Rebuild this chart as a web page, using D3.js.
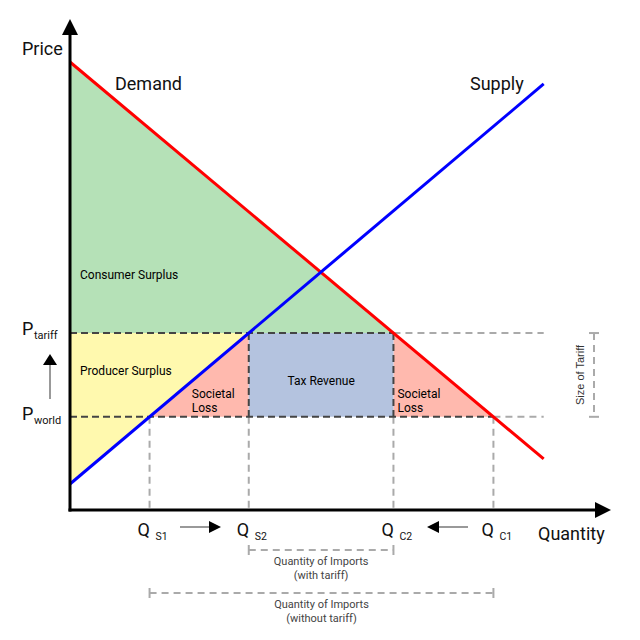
<!DOCTYPE html>
<html><head><meta charset="utf-8">
<script src="https://cdn.jsdelivr.net/npm/d3@7"></script>
<style>body{margin:0;background:#fff}svg{display:block}</style>
</head><body>
<script>
// ---- data ----
const demand = [{q:0, p:10}, {q:10, p:1.14}];
const supply = [{q:0, p:0.58}, {q:10, p:9.51}];
const pWorld = 2.08;
const pTariff = 3.95;
const qLabels = [["Q","S1"],["Q","S2"],["Q","C2"],["Q","C1"]];
const regionLabels = ["Consumer Surplus","Producer Surplus","Tax Revenue"];

const W = 640, H = 640;
const svg = d3.select("body").append("svg").attr("width", W).attr("height", H);
const x = d3.scaleLinear().domain([0, 11.4]).range([70, 610]);
const y = d3.scaleLinear().domain([0, 11]).range([510, 17.2]);

const dSlope = (demand[1].p - demand[0].p) / (demand[1].q - demand[0].q);
const sSlope = (supply[1].p - supply[0].p) / (supply[1].q - supply[0].q);
const qD = p => demand[0].q + (p - demand[0].p) / dSlope;
const qS = p => supply[0].q + (p - supply[0].p) / sSlope;
const qs1 = qS(pWorld), qs2 = qS(pTariff), qc2 = qD(pTariff), qc1 = qD(pWorld);

const line = d3.line().x(d => x(d[0])).y(d => y(d[1]));
const poly = (pts, fill) => svg.append("path").attr("d", line(pts) + "Z").attr("fill", fill);

// fills
poly([[0, demand[0].p], [qc2, pTariff], [0, pTariff]], "#b5e1b7");
poly([[0, pTariff], [qs2, pTariff], [0, supply[0].p]], "#fff9ae");
poly([[qs1, pWorld], [qs2, pTariff], [qs2, pWorld]], "#ffb9ae");
poly([[qc2, pTariff], [qc2, pWorld], [qc1, pWorld]], "#ffb9ae");
poly([[qs2, pTariff], [qc2, pTariff], [qc2, pWorld], [qs2, pWorld]], "#b4c3df");

const seg = (pts, color, dash) => svg.append("path").attr("d", line(pts))
  .attr("fill", "none").attr("stroke", color).attr("stroke-width", 2).attr("stroke-dasharray", dash);
const dark = "#444", light = "#aaa";
const qEnd = 10;
// light extensions
seg([[qc2, pTariff], [qEnd, pTariff]], light, "7,5");
seg([[qc1, pWorld], [qEnd, pWorld]], light, "7,5");
[qs1, qs2, qc2, qc1].forEach(q => seg([[q, pWorld], [q, 0]], light, "7,5"));
// dark dashed
seg([[0, pTariff], [qc2, pTariff]], dark, "7,4");
seg([[0, pWorld], [qc1, pWorld]], dark, "7,4");
seg([[qs2, pTariff], [qs2, pWorld]], dark, "7,4");
seg([[qc2, pTariff], [qc2, pWorld]], dark, "7,4");

// supply & demand
svg.append("path").attr("d", line(demand.map(d => [d.q, d.p]))).attr("stroke", "#ff0000").attr("stroke-width", 3).attr("fill", "none");
svg.append("path").attr("d", line(supply.map(d => [d.q, d.p]))).attr("stroke", "#0000ff").attr("stroke-width", 3).attr("fill", "none");

// axes
const x0 = x(0), y0 = y(0);
svg.append("line").attr("x1", x0).attr("y1", y0 + 1.5).attr("x2", x0).attr("y2", 34).attr("stroke", "#000").attr("stroke-width", 3);
svg.append("line").attr("x1", x0 - 1.5).attr("y1", y0).attr("x2", 596).attr("y2", y0).attr("stroke", "#000").attr("stroke-width", 3);
svg.append("path").attr("d", `M${x0},19 L${x0 + 8},35 L${x0 - 8},35 Z`).attr("fill", "#000");
svg.append("path").attr("d", `M611,${y0} L595,${y0 - 8} L595,${y0 + 8} Z`).attr("fill", "#000");

const F = "Roboto, 'Noto Sans', sans-serif";
const txt = (s, tx, ty, size, opts = {}) => svg.append("text").attr("x", tx).attr("y", ty)
  .attr("font-family", opts.family || F).attr("font-size", size).attr("fill", opts.fill || "#111")
  .attr("text-anchor", opts.anchor || "start").text(s);

txt("Price", 22, 55, 18);
txt("Demand", 115, 90, 18);
txt("Supply", 470, 90, 18);
txt("Quantity", 538, 540, 18);

txt(regionLabels[0], 80, 279, 12, {fill:"#000"});
txt(regionLabels[1], 80, 375, 12, {fill:"#000"});
txt(regionLabels[2], (x(qs2) + x(qc2)) / 2, 385, 12, {fill:"#000", anchor:"middle"});
txt("Societal", x(qs2) - 57, 398, 12, {fill:"#000"});
txt("Loss", x(qs2) - 57, 412, 12, {fill:"#000"});
txt("Societal", x(qc2) + 4, 398, 12, {fill:"#000"});
txt("Loss", x(qc2) + 4, 412, 12, {fill:"#000"});

// price labels
txt("P", 22, y(pTariff) + 2, 18);
txt("tariff", 34, y(pTariff) + 6, 11);
txt("P", 22, y(pWorld) + 3, 18);
txt("world", 34, y(pWorld) + 7, 11);
// up arrow
svg.append("line").attr("x1", 50).attr("y1", 399).attr("x2", 50).attr("y2", 364).attr("stroke", "#999").attr("stroke-width", 2);
svg.append("path").attr("d", "M50,354 L57,365 L43,365 Z").attr("fill", "#000");

// Q labels
[qs1, qs2, qc2, qc1].forEach((q, i) => {
  txt(qLabels[i][0], x(q) - 12, 536, 18);
  txt(qLabels[i][1], x(q) + 6, 540, 10.5);
});
// horizontal arrows
svg.append("line").attr("x1", 180).attr("y1", 527).attr("x2", 211).attr("y2", 527).attr("stroke", "#999").attr("stroke-width", 2);
svg.append("path").attr("d", "M221,527 L209,521 L209,533 Z").attr("fill", "#000");
svg.append("line").attr("x1", 437).attr("y1", 527).attr("x2", 468).attr("y2", 527).attr("stroke", "#999").attr("stroke-width", 2);
svg.append("path").attr("d", "M427,527 L439,521 L439,533 Z").attr("fill", "#000");

// brackets
const bracketH = (q1, q2, by) => {
  seg([[q1, 0], [q2, 0]], light, "7,5").attr("transform", `translate(0,${by - y0})`);
  [q1, q2].forEach(q => svg.append("line").attr("x1", x(q)).attr("x2", x(q)).attr("y1", by - 5).attr("y2", by + 5).attr("stroke", light).attr("stroke-width", 2));
};
bracketH(qs2, qc2, 550);
txt("Quantity of Imports", (x(qs2) + x(qc2)) / 2, 565, 11, {anchor:"middle", fill:"#444"});
txt("(with tariff)", (x(qs2) + x(qc2)) / 2, 579, 11, {anchor:"middle", fill:"#444"});
bracketH(qs1, qc1, 593);
txt("Quantity of Imports", (x(qs1) + x(qc1)) / 2, 608, 11, {anchor:"middle", fill:"#444"});
txt("(without tariff)", (x(qs1) + x(qc1)) / 2, 622, 11, {anchor:"middle", fill:"#444"});

// size of tariff bracket
const bx = 594;
svg.append("line").attr("x1", bx).attr("x2", bx).attr("y1", y(pTariff)).attr("y2", y(pWorld)).attr("stroke", light).attr("stroke-width", 2).attr("stroke-dasharray", "7,5");
[pTariff, pWorld].forEach(p => svg.append("line").attr("x1", bx - 5).attr("x2", bx + 5).attr("y1", y(p)).attr("y2", y(p)).attr("stroke", light).attr("stroke-width", 2));
svg.append("text").attr("transform", `translate(584,${(y(pTariff) + y(pWorld)) / 2}) rotate(-90)`)
  .attr("text-anchor", "middle").attr("font-family", "'Liberation Sans', Arial, sans-serif").attr("font-size", 11).attr("fill", "#333").text("Size of Tariff");
</script>
</body></html>
